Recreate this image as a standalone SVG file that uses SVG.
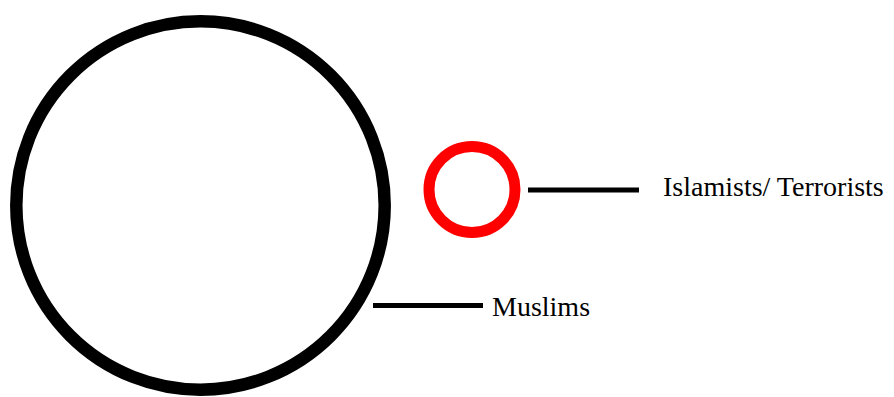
<svg xmlns="http://www.w3.org/2000/svg" width="894" height="397" viewBox="0 0 894 397">
<style>
.lbl{font-family:"Liberation Serif","Times New Roman",serif;font-size:28px;fill:#000}
.conn{stroke:#000;stroke-width:5}
</style>
<rect width="894" height="397" fill="#fff"/>
<g id="muslims">
<circle cx="200.5" cy="205.5" r="184.2" fill="none" stroke="#000" stroke-width="12.5"/>
<text class="lbl" x="492" y="316">Muslims</text>
</g>
<g id="islamists">
<circle cx="472" cy="189.5" r="43" fill="none" stroke="#f00" stroke-width="11"/>
<text class="lbl" x="663" y="196">Islamists/ Terrorists</text>
</g>
<g id="connectors">
<line class="conn" x1="373" y1="305.5" x2="483" y2="305.5"/>
<line class="conn" x1="528" y1="190" x2="639" y2="190"/>
</g>
</svg>
